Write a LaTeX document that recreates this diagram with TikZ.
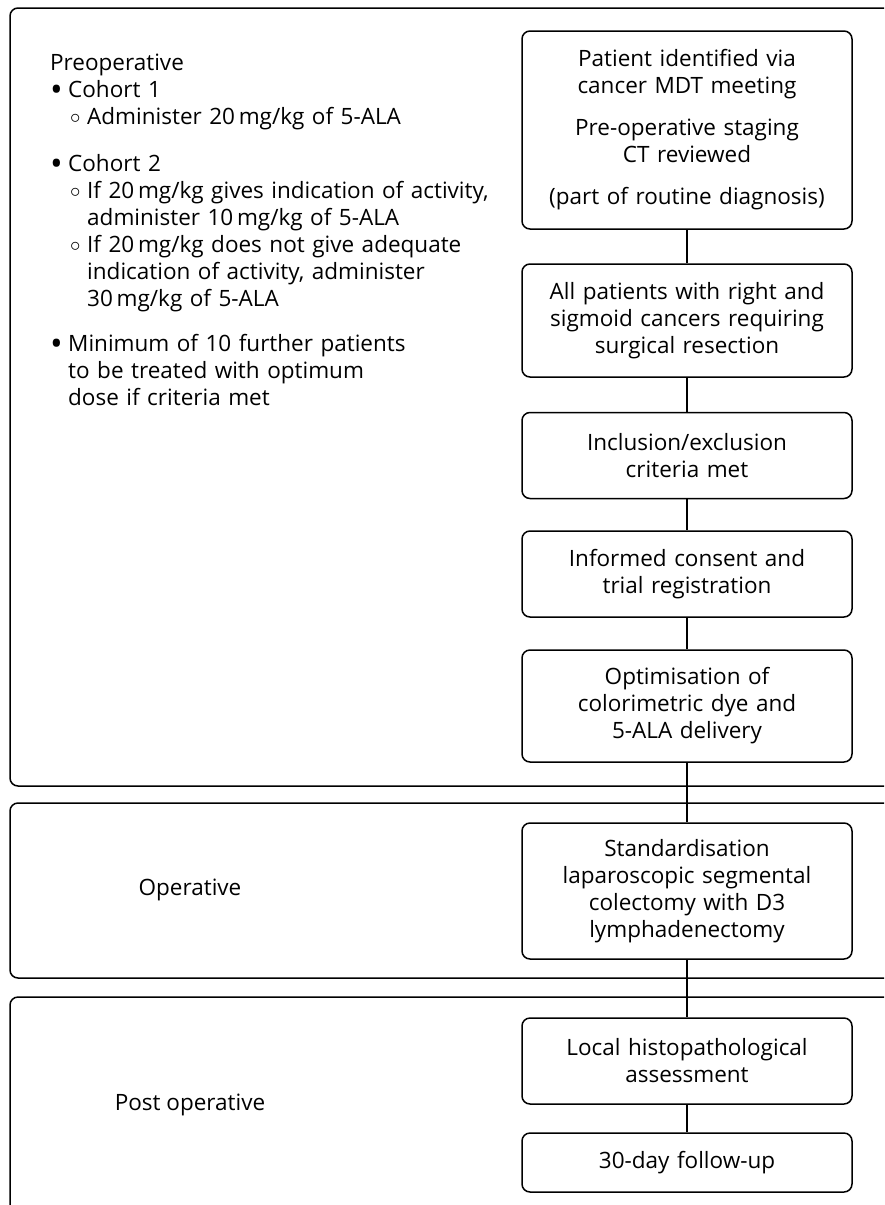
\documentclass[tikz,border=0pt]{standalone}
\usepackage{fontspec}
\setmainfont{Open Sans}
\newcommand{\bul}{\makebox[18pt][l]{\raisebox{-4pt}{\scalebox{1.5}{\textbullet}}}}
\newcommand{\subbul}{\hspace*{20pt}\makebox[17pt][l]{\raisebox{1pt}{$\circ$}}}
\newcommand{\subind}{\hspace*{37pt}}
\begin{document}
\begin{tikzpicture}[x=1pt,y=-1pt,
    every node/.style={font=\fontsize{22.5}{27}\selectfont},
    flowbox/.style={draw,line width=1.5pt,rounded corners=8pt,minimum width=330pt,text width=320pt,align=center,inner sep=0pt},
    panel/.style={draw,line width=1.5pt,rounded corners=8pt}]
  \useasboundingbox (0,0) rectangle (884,1205);
  \clip (0,0) rectangle (884,1205);
  \draw[panel] (10,8) rectangle (920,786);
  \draw[panel] (10,803) rectangle (920,978);
  \draw[panel] (10,997) rectangle (920,1240);
  \draw
    (190,890) node (opl){Operative}
    (190,1105) node (postl){Post operative}
    (50,54) node[anchor=north west,inner sep=0pt,text width=440pt,align=left] (prel){%
      Preoperative\\
      \bul Cohort 1\\
      \subbul Administer 20\,mg/kg of 5-ALA\\[20pt]
      \bul Cohort 2\\
      \subbul If 20\,mg/kg gives indication of activity,\\
      \subind administer 10\,mg/kg of 5-ALA\\
      \subbul If 20\,mg/kg does not give adequate\\
      \subind indication of activity, administer\\
      \subind 30\,mg/kg of 5-ALA\\[18pt]
      \bul Minimum of 10 further patients\\
      \hspace*{18pt}to be treated with optimum\\
      \hspace*{18pt}dose if criteria met};
  \draw
    (687,130) node[flowbox,minimum height=198pt] (ident){Patient identified via\\cancer MDT meeting\\[15pt]Pre-operative staging\\CT reviewed\\[15pt](part of routine diagnosis)}
    (687,320.5) node[flowbox,minimum height=113pt] (elig){All patients with right and\\sigmoid cancers requiring\\surgical resection}
    (687,455.5) node[flowbox,minimum height=86pt] (crit){Inclusion/exclusion\\criteria met}
    (687,574) node[flowbox,minimum height=86pt] (consent){Informed consent and\\trial registration}
    (687,706) node[flowbox,minimum height=112pt] (optim){Optimisation of\\colorimetric dye and\\5-ALA delivery}
    (687,891) node[flowbox,minimum height=136pt] (surg){Standardisation\\laparoscopic segmental\\colectomy with D3\\lymphadenectomy}
    (687,1061) node[flowbox,minimum height=86pt] (histo){Local histopathological\\assessment}
    (687,1162.5) node[flowbox,minimum height=59pt] (follow){30-day follow-up};
  \begin{scope}[-,line width=1.5pt]
    \draw (ident) to (elig);
    \draw (elig) to (crit);
    \draw (crit) to (consent);
    \draw (consent) to (optim);
    \draw (optim) to (surg);
    \draw (surg) to (histo);
    \draw (histo) to (follow);
  \end{scope}
\end{tikzpicture}
\end{document}
